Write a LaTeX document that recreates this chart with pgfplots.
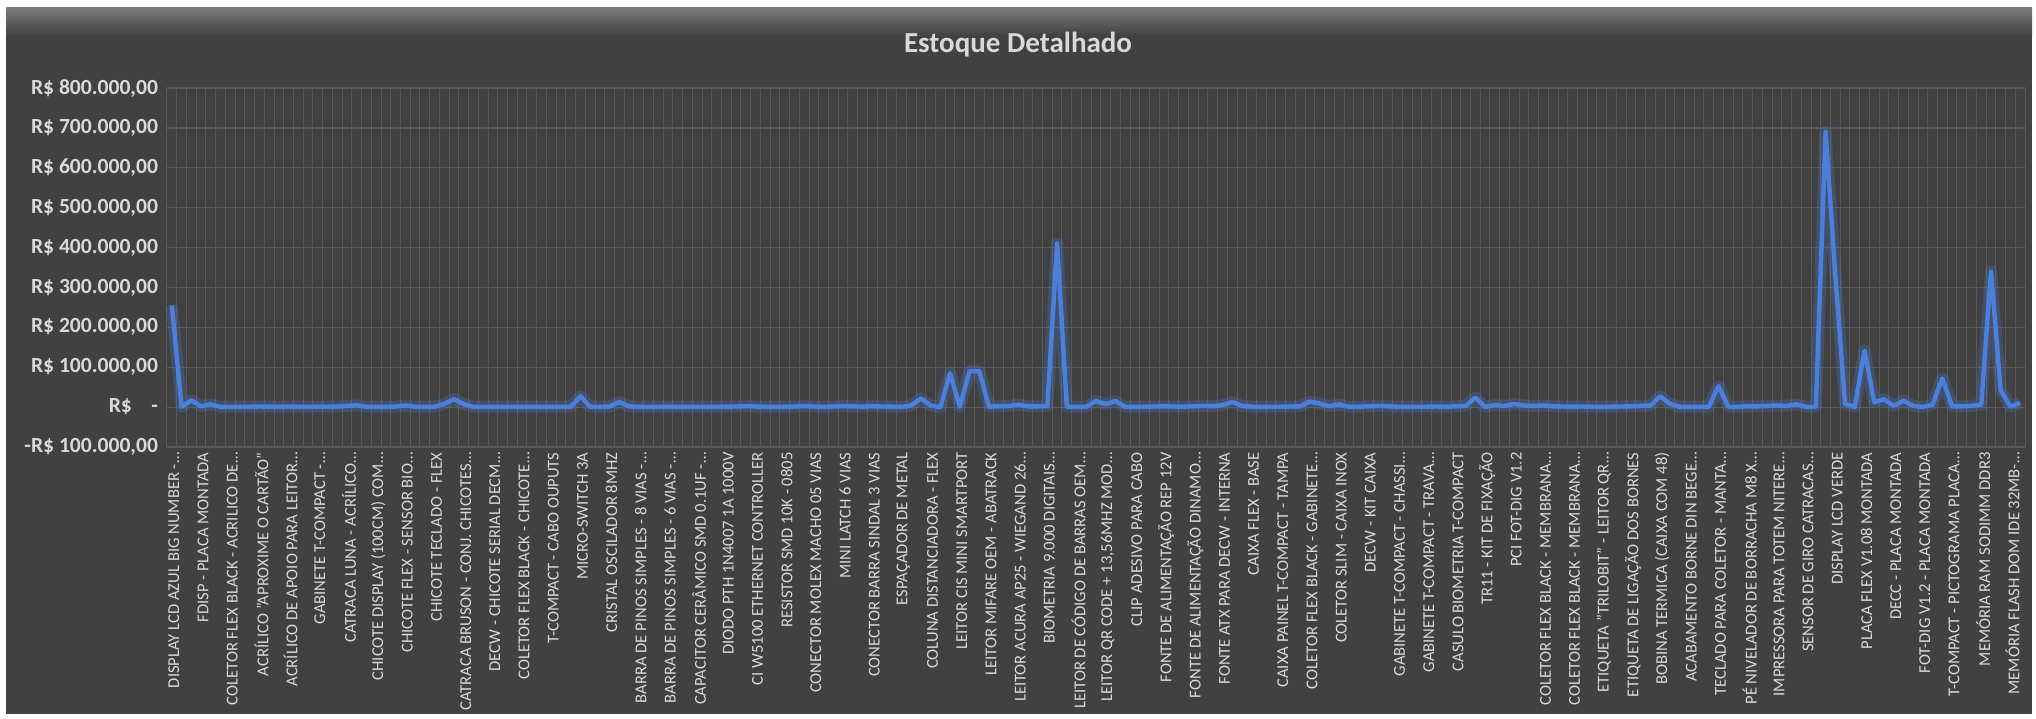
\documentclass[border=0pt]{standalone}
\usepackage{pgfplots}
\pgfplotsset{compat=1.18}
\usepackage{pgfplotstable}
\usepackage{fontspec}
\setmainfont{Carlito}
\definecolor{bgdark}{HTML}{414141}
\definecolor{bevel}{HTML}{7A7A7A}
\definecolor{gridc}{HTML}{595959}
\definecolor{txt}{HTML}{D9D9D9}
\definecolor{linec}{HTML}{4A7FDC}
\pgfplotstableread{
i v
0 255000
1 1000
2 17000
3 2000
4 7000
5 500
6 300
7 500
8 1000
9 1500
10 1200
11 800
12 1500
13 1000
14 800
15 1200
16 1000
17 1500
18 3000
19 4500
20 1000
21 500
22 800
23 1500
24 4000
25 1000
26 500
27 800
28 8000
29 20000
30 8000
31 500
32 300
33 500
34 800
35 1000
36 500
37 800
38 600
39 500
40 800
41 1000
42 27000
43 1000
44 800
45 1500
46 13000
47 2000
48 500
49 300
50 800
51 1000
52 500
53 800
54 1000
55 600
56 500
57 1200
58 1500
59 2500
60 1500
61 800
62 500
63 700
64 1500
65 2500
66 1500
67 800
68 1500
69 2500
70 1800
71 1200
72 2500
73 1500
74 1000
75 500
76 4000
77 22000
78 4000
79 0
80 85000
81 500
82 90000
83 90000
84 1000
85 2500
86 2500
87 6000
88 2000
89 2000
90 2500
91 410000
92 1000
93 500
94 1000
95 15000
96 8000
97 15000
98 500
99 500
100 1000
101 1500
102 2000
103 1500
104 1000
105 2000
106 3000
107 2500
108 5000
109 13000
110 3000
111 1000
112 500
113 1000
114 1000
115 1500
116 2000
117 14000
118 9000
119 2000
120 7000
121 500
122 1000
123 2000
124 3000
125 2000
126 1000
127 500
128 1000
129 1000
130 1500
131 1000
132 2000
133 3000
134 24000
135 500
136 5000
137 3000
138 8000
139 4000
140 3000
141 4000
142 2000
143 1500
144 1000
145 1500
146 1000
147 500
148 1000
149 1500
150 2000
151 3000
152 4000
153 27000
154 8000
155 500
156 500
157 800
158 1000
159 53000
160 500
161 800
162 2000
163 2000
164 3000
165 4000
166 3000
167 7000
168 500
169 1000
170 690000
171 330000
172 8000
173 500
174 142000
175 12000
176 20000
177 3000
178 16000
179 3000
180 500
181 6000
182 72000
183 2000
184 2000
185 3000
186 6000
187 340000
188 42000
189 1000
190 11000
}\datatable
\begin{document}
\begin{tikzpicture}
\useasboundingbox (0,0) rectangle (1018pt,359pt);
\fill[white] (0,0) rectangle (1018pt,359pt);
\fill[bgdark] (3pt,2pt) rectangle (1016pt,355pt);
\shade[top color=bevel, bottom color=bgdark] (3pt,341pt) rectangle (1016pt,355pt);
\node[text=txt, font=\bfseries\fontsize{14.5}{17}\selectfont] at (509pt,336.5pt) {Estoque Detalhado};
\begin{axis}[
  at={(83.5pt,135.5pt)}, anchor=south west,
  scale only axis, width=929pt, height=179.5pt,
  xmin=-0.5, xmax=190.5, ymin=-100000, ymax=800000,
  xtick={0,3,...,189},
  xticklabels={
    DISPLAY LCD AZUL BIG NUMBER -…,
    FDISP - PLACA MONTADA,
    COLETOR FLEX BLACK - ACRILICO DE…,
    ACRÍLICO "APROXIME O CARTÃO",
    ACRÍLICO DE APOIO PARA LEITOR…,
    GABINETE T-COMPACT -…,
    CATRACA LUNA - ACRÍLICO…,
    CHICOTE DISPLAY (100CM) COM…,
    CHICOTE FLEX - SENSOR BIO…,
    CHICOTE TECLADO - FLEX,
    CATRACA BRUSON - CONJ. CHICOTES…,
    DECW - CHICOTE SERIAL DECM…,
    COLETOR FLEX BLACK - CHICOTE…,
    T-COMPACT - CABO OUPUTS,
    MICRO-SWITCH 3A,
    CRISTAL OSCILADOR 8MHZ,
    BARRA DE PINOS SIMPLES - 8 VIAS -…,
    BARRA DE PINOS SIMPLES - 6 VIAS -…,
    CAPACITOR CERÂMICO SMD 0.1UF -…,
    DIODO PTH 1N4007 1A 1000V,
    CI W5100 ETHERNET CONTROLLER,
    RESISTOR SMD 10K - 0805,
    CONECTOR MOLEX MACHO 05 VIAS,
    MINI LATCH 6 VIAS,
    CONECTOR BARRA SINDAL 3 VIAS,
    ESPAÇADOR DE METAL,
    COLUNA DISTANCIADORA - FLEX,
    LEITOR CIS MINI SMARTPORT,
    LEITOR MIFARE OEM - ABATRACK,
    LEITOR ACURA AP25 - WIEGAND 26…,
    BIOMETRIA 9.000 DIGITAIS…,
    LEITOR DE CÓDIGO DE BARRAS OEM…,
    {LEITOR QR CODE + 13,56MHZ MOD…},
    CLIP ADESIVO PARA CABO,
    FONTE DE ALIMENTAÇÃO REP 12V,
    FONTE DE ALIMENTAÇÃO DINAMO…,
    FONTE ATX PARA DECW - INTERNA,
    CAIXA FLEX - BASE,
    CAIXA PAINEL T-COMPACT - TAMPA,
    COLETOR FLEX BLACK - GABINETE…,
    COLETOR SLIM - CAIXA INOX,
    DECW - KIT CAIXA,
    GABINETE T-COMPACT - CHASSI…,
    GABINETE T-COMPACT - TRAVA…,
    CASULO BIOMETRIA T-COMPACT,
    TR11 - KIT DE FIXAÇÃO,
    PCI FOT-DIG V1.2,
    COLETOR FLEX BLACK - MEMBRANA…,
    COLETOR FLEX BLACK - MEMBRANA…,
    ETIQUETA "TRILOBIT" - LEITOR QR…,
    ETIQUETA DE LIGAÇÃO DOS BORNES,
    BOBINA TERMICA (CAIXA COM 48),
    ACABAMENTO BORNE DIN BEGE…,
    TECLADO PARA COLETOR - MANTA…,
    PÉ NIVELADOR DE BORRACHA M8 X…,
    IMPRESSORA PARA TOTEM NITERE…,
    SENSOR DE GIRO CATRACAS…,
    DISPLAY LCD VERDE,
    PLACA FLEX V1.08 MONTADA,
    DECC - PLACA MONTADA,
    FOT-DIG V1.2 - PLACA MONTADA,
    T-COMPACT - PICTOGRAMA PLACA…,
    MEMÓRIA RAM SODIMM DDR3,
    MEMÓRIA FLASH DOM IDE 32MB-…},
  minor xtick={-0.5,0.5,...,190.5},
  xminorgrids=true, ymajorgrids=true, xmajorgrids=false,
  minor grid style={gridc, line width=0.5pt},
  major grid style={gridc, line width=0.6pt},
  ytick={-100000,0,100000,200000,300000,400000,500000,600000,700000,800000},
  yticklabels={{-R\$ 100.000,00},{R\$\hspace{0.9em}-},{R\$ 100.000,00},{R\$ 200.000,00},{R\$ 300.000,00},{R\$ 400.000,00},{R\$ 500.000,00},{R\$ 600.000,00},{R\$ 700.000,00},{R\$ 800.000,00}},
  scaled y ticks=false,
  axis line style={draw=none},
  major tick length=0pt, minor tick length=0pt,
  y tick label style={text=txt, font=\bfseries\fontsize{10.8}{12}\selectfont, xshift=-1pt},
  x tick label style={text=txt, font=\fontsize{8.3}{9.5}\selectfont, rotate=90, anchor=east, yshift=-1pt, xshift=0.8pt},
  clip=false,
]
\addplot[linec, opacity=0.25, line width=6pt, line join=round, no marks] table[x=i, y=v] {\datatable};
\addplot[linec, line width=2.2pt, line join=round, no marks] table[x=i, y=v] {\datatable};
\end{axis}
\end{tikzpicture}
\end{document}
